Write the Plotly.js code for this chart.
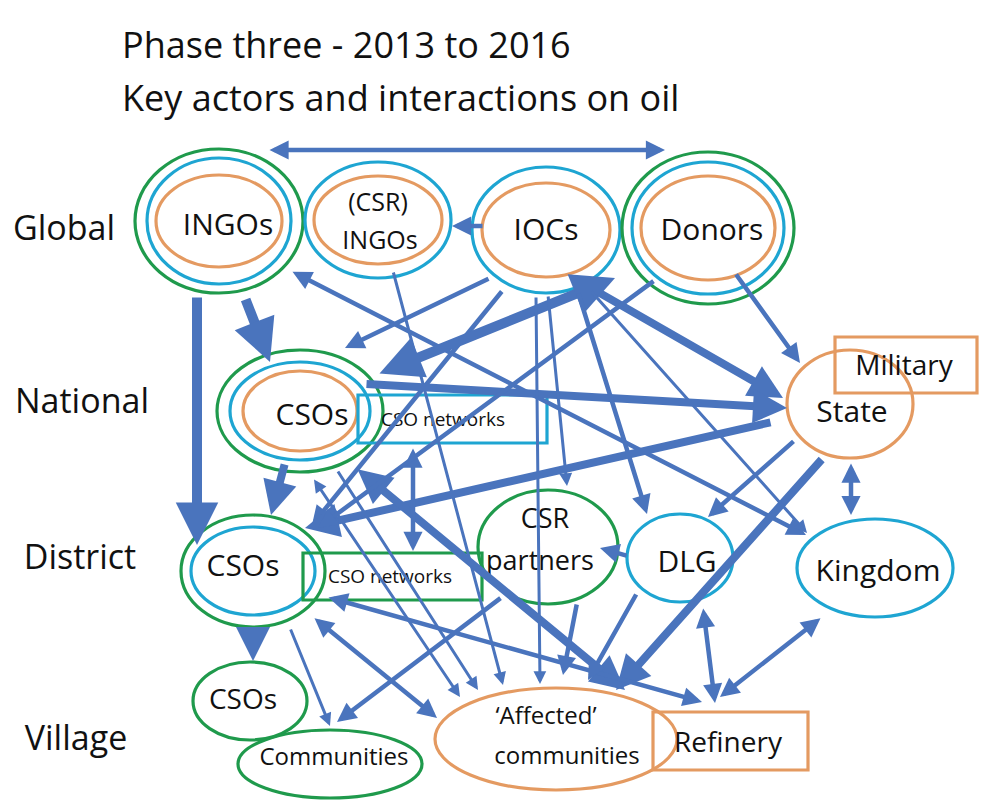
<!DOCTYPE html>
<html>
<head>
<meta charset="utf-8">
<script src="https://cdn.plot.ly/plotly-3.0.1.min.js"></script>
<style>html,body{margin:0;padding:0;background:#fff;}#chart{width:981px;height:802px;}</style>
</head>
<body>
<div id="chart"></div>
<script>
// ---------------- DATA ----------------
const titleLines = ['Phase three - 2013 to 2016', 'Key actors and interactions on oil'];
const levelNames = ['Global', 'National', 'District', 'Village'];

// actors (nodes): id, label, level
const nodeIds    = ['INGO','CSRINGO','IOC','DONOR','CSO_N','NET_N','STATE','MIL','CSRP','DLG','KING','CSO_D','NET_D','CSO_V','COMM','AFF','REF'];
const nodeLabels = [['INGOs'],['(CSR)','INGOs'],['IOCs'],['Donors'],['CSOs'],['CSO networks'],['State'],['Military'],['CSR','partners'],['DLG'],['Kingdom'],['CSOs'],['CSO networks'],['CSOs'],['Communities'],['‘Affected’','communities'],['Refinery']];
const nodeLevels = ['Global','Global','Global','Global','National','National','National','National','District','District','District','District','District','Village','Village','Village','Village'];
// rings around each actor (g = green, b = blue, o = orange), outer to inner
const nodeRings  = [['g','b','o'],['b','o'],['b','o'],['g','b','o'],['g','b','o'],['b'],['o'],['o'],['g'],['b'],['b'],['g','b'],['g'],['g'],['g'],['o'],['o']];
const nodeShape  = ['ellipse','ellipse','ellipse','ellipse','ellipse','box','ellipse','box','ellipse','ellipse','ellipse','ellipse','box','ellipse','ellipse','ellipse','box'];

// interactions (edges): from, to, strength (1 weak .. 4 strong), two-way?
const edgeFrom  = ['INGO','IOC','INGO','INGO','INGO','CSRINGO','IOC','IOC','CSO_N','DONOR','IOC','CSO_N','STATE','STATE','STATE','IOC','IOC','IOC','IOC','STATE','CSO_N','CSO_N','NET_N','CSO_N','CSO_N','CSO_D','CSO_D','CSRP','CSO_D','NET_D','DLG','DLG','KING','DLG','CSRP','DONOR'];
const edgeTo    = ['DONOR','CSRINGO','CSO_D','CSO_N','KING','AFF','CSO_N','CSO_D','DONOR','STATE','STATE','STATE','DLG','AFF','KING','DLG','CSRP','AFF','KING','CSO_D','AFF','CSO_D','NET_D','AFF','AFF','AFF','COMM','COMM','CSO_V','REF','AFF','REF','REF','CSRP','AFF','CSO_D'];
const edgeLevel = [2,2,4,4,2,1,2,2,4,2,3,3,2,3,2,2,1,1,1,3,3,3,2,1,1,2,1,2,3,2,2,2,2,2,2,2];
const edgeTwoWay= [1,0,0,0,1,0,0,0,1,0,0,0,0,0,1,0,0,0,0,0,1,0,1,1,0,1,0,0,0,1,0,1,1,0,0,0];

// ---------------- GEOMETRY (diagram layout, pixels) ----------------
const nodeGeom = {
  INGO:   {cx:219, cy:221, rings:[[84,72],[72,63],[63,46]], text:[[228,227]], fs:30},
  CSRINGO:{cx:378, cy:220, rings:[[73,58],[64,44]], text:[[378,205],[380,243]], fs:25},
  IOC:    {cx:546, cy:230, rings:[[74,63],[64,47]], text:[[546,232]], fs:30},
  DONOR:  {cx:708, cy:228, rings:[[86,76],[76,66],[67,52]], text:[[712,232]], fs:30},
  CSO_N:  {cx:300, cy:411, rings:[[83,61],[70,49],[57,40]], text:[[312,417]], fs:30},
  NET_N:  {box:[358,395,547,443], text:[[443,421]], fs:19},
  STATE:  {cx:850, cy:404, rings:[[63,54]], text:[[852,414]], fs:30},
  MIL:    {box:[835,337,977,393], text:[[904,368]], fs:28},
  CSRP:   {cx:548, cy:547, rings:[[70,57]], text:[[545,521],[540,563]], fs:27},
  DLG:    {cx:680, cy:558, rings:[[53,44]], text:[[687,564]], fs:30},
  KING:   {cx:875, cy:568, rings:[[78,49]], text:[[878,573]], fs:30},
  CSO_D:  {cx:253, cy:571, rings:[[72,56],[62,44]], text:[[243,568]], fs:30},
  NET_D:  {box:[303,553,482,600], text:[[390,578]], fs:19},
  CSO_V:  {cx:250, cy:701, rings:[[57,39]], text:[[243,702]], fs:28},
  COMM:   {cx:330, cy:764, rings:[[92,34]], text:[[334,759]], fs:24},
  AFF:    {cx:556, cy:739, rings:[[121,51]], text:[[546,718],[567,758]], fs:24},
  REF:    {box:[653,712,808,770], text:[[728,745]], fs:28}
};
// tail -> head of each interaction arrow
const edgeGeom = [
  [268,150,665,150],[484,226,452,226],[197,296,197,545],[245,298,270,362],[291,271,806,535],
  [393,271,503,685],[490,278,345,348],[503,290,312,525],[378,374,615,278],[735,273,800,363],
  [598,292,783,398],[365,384,787,408],[795,440,708,517],[823,458,616,690],[851,462,851,515],
  [578,292,647,514],[548,295,567,486],[536,296,540,684],[590,290,807,533],[772,422,305,528],
  [356,468,625,690],[285,463,271,515],[413,447,413,551],[313,478,460,697],[337,470,478,690],
  [313,617,437,718],[290,628,330,726],[502,597,337,722],[253,628,253,661],[327,597,702,702],
  [637,593,588,680],[703,607,715,703],[822,617,720,697],[628,556,600,548],[577,603,563,675],
  [655,280,318,528]
];
const levelPos = {Global:[64,231], National:[82,404], District:[80,560], Village:[76,741]};
const titlePos = [[120,44],[120,97]];

// ---------------- STYLE ----------------
const FONT = '"Open Sans", Lato, sans-serif';
const ringColor = {g:'#1f9a4c', b:'#1ea5d2', o:'#e49a61'};
const arrowColor = '#4a74bd';
const widthByLevel = {1:3, 2:4.5, 3:8, 4:10};

// ---------------- BUILD ----------------
const shapes = [];
nodeIds.forEach((id, i) => {
  const g = nodeGeom[id];
  if (nodeShape[i] === 'box') {
    shapes.push({type:'rect', xref:'x', yref:'y', x0:g.box[0], y0:g.box[1], x1:g.box[2], y1:g.box[3],
      line:{color:ringColor[nodeRings[i][0]], width:3.2}, fillcolor:'rgba(0,0,0,0)', layer:'below'});
  } else {
    nodeRings[i].forEach((c, k) => {
      const r = g.rings[k];
      shapes.push({type:'circle', xref:'x', yref:'y', x0:g.cx-r[0], x1:g.cx+r[0], y0:g.cy-r[1], y1:g.cy+r[1],
        line:{color:ringColor[c], width:3.2}, fillcolor:'rgba(0,0,0,0)', layer:'below'});
    });
  }
});

// node label trace
const tx = [], ty = [], tt = [], ts = [];
nodeIds.forEach((id, i) => {
  const g = nodeGeom[id];
  nodeLabels[i].forEach((t, k) => { tx.push(g.text[k][0]); ty.push(g.text[k][1]); tt.push(t); ts.push(g.fs); });
});
levelNames.forEach(l => { tx.push(levelPos[l][0]); ty.push(levelPos[l][1]); tt.push(l); ts.push(34); });

const traces = [{
  type:'scatter', mode:'text', x:tx, y:ty, text:tt, textposition:'middle center',
  textfont:{family:FONT, size:ts, color:'#111'}, hoverinfo:'skip', showlegend:false, cliponaxis:false
}];

const annotations = [];
edgeFrom.forEach((f, i) => {
  const e = edgeGeom[i];
  const w = widthByLevel[edgeLevel[i]];
  annotations.push({
    xref:'x', yref:'y', axref:'x', ayref:'y', x:e[2], y:e[3], ax:e[0], ay:e[1], text:'',
    showarrow:true, arrowhead:2, arrowsize:0.85, arrowwidth:w, arrowcolor:arrowColor,
    arrowside: edgeTwoWay[i] ? 'end+start' : 'end', startarrowhead:2, startarrowsize:0.85, standoff:0, startstandoff:0
  });
});
titleLines.forEach((t, i) => {
  annotations.push({xref:'x', yref:'y', x:titlePos[i][0], y:titlePos[i][1], text:t, showarrow:false,
    xanchor:'left', yanchor:'middle', font:{family:FONT, size:36, color:'#111'}});
});

const layout = {
  width:981, height:802, margin:{l:0, r:0, t:0, b:0},
  paper_bgcolor:'#fff', plot_bgcolor:'#fff', showlegend:false,
  xaxis:{range:[0,981], visible:false, fixedrange:true},
  yaxis:{range:[802,0], visible:false, fixedrange:true},
  shapes:shapes, annotations:annotations
};
Plotly.newPlot('chart', traces, layout, {staticPlot:true, displayModeBar:false});
</script>
</body>
</html>
